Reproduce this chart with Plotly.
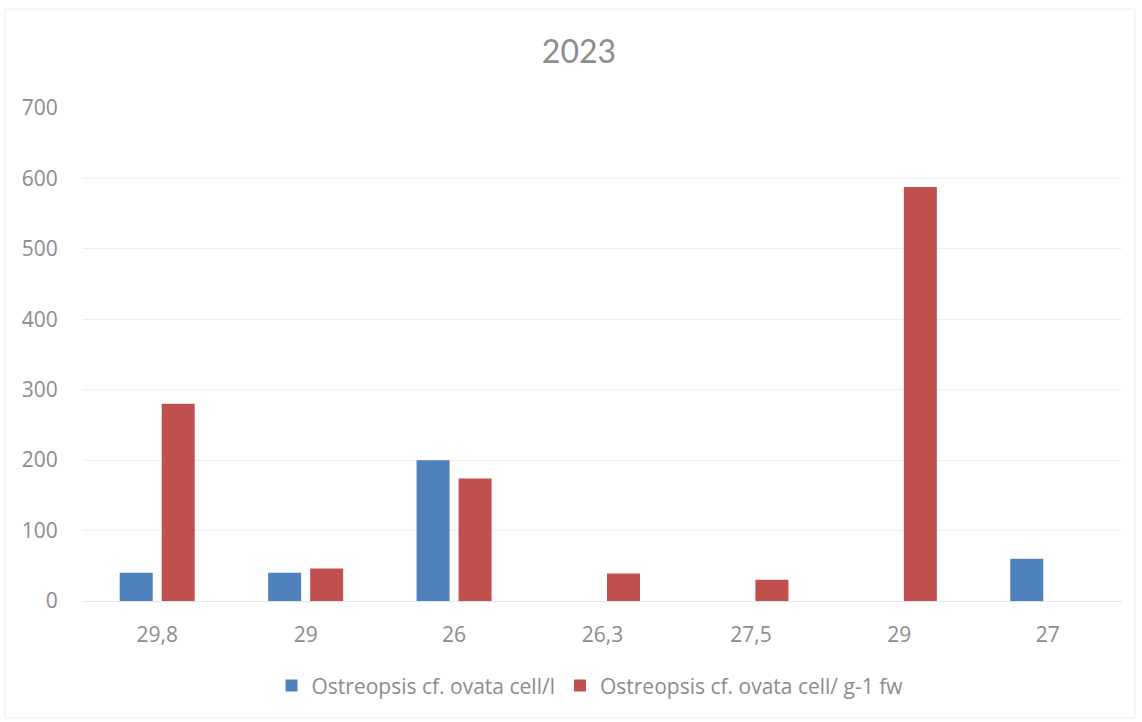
import plotly.graph_objects as go

# Water temperature (°C) of each sampling, used as the category label
temp_labels = ["29,8", "29", "26", "26,3", "27,5", "29", "27"]
cells_per_litre = [40, 40, 200, 0, 0, 0, 60]
cells_per_gram_fw = [280, 46, 174, 39, 30, 588, 0]

positions = list(range(len(temp_labels)))
text_col = "#8c8c8c"
body_font = "'Open Sans', sans-serif"
title_font = "Lato, sans-serif"

fig = go.Figure()
fig.add_trace(go.Bar(
    x=positions, y=cells_per_litre,
    name="Ostreopsis cf. ovata cell/l",
    marker=dict(color="#4f81bd", line=dict(width=0)),
))
fig.add_trace(go.Bar(
    x=positions, y=cells_per_gram_fw,
    name="Ostreopsis cf. ovata cell/ g-1 fw",
    marker=dict(color="#c0504d", line=dict(width=0)),
))

fig.update_layout(
    width=1142, height=722,
    margin=dict(l=83, r=20, t=108, b=121),
    paper_bgcolor="white", plot_bgcolor="white",
    barmode="group", bargap=0.434, bargroupgap=0.214,
    font=dict(family=body_font, color=text_col, size=21),
    title=dict(text="2023", x=0.507, xanchor="center", y=0.928, yanchor="middle",
               font=dict(size=32, color=text_col, family=title_font)),
    xaxis=dict(
        tickmode="array", tickvals=positions, ticktext=temp_labels,
        range=[-0.5, len(temp_labels) - 0.5],
        showgrid=False, zeroline=False, showline=False,
        ticks="outside", ticklen=15, tickcolor="rgba(0,0,0,0)",
        tickfont=dict(size=21, color=text_col),
    ),
    yaxis=dict(
        range=[0, 700], dtick=100,
        showgrid=True, gridcolor="#efefef", gridwidth=1,
        zeroline=True, zerolinecolor="#e6e6e6", zerolinewidth=1,
        showline=False, ticks="outside", ticklen=20, tickcolor="rgba(0,0,0,0)",
        tickfont=dict(size=21, color=text_col),
    ),
    legend=dict(orientation="h", x=0.488, xanchor="center", y=-0.172, yanchor="middle",
                font=dict(size=21, color=text_col), itemwidth=30, traceorder="normal"),
    shapes=[dict(type="rect", xref="paper", yref="paper",
                 x0=-0.075, x1=1.0125, y0=-0.237, y1=1.2008,
                 line=dict(color="#ececec", width=1), layer="below")],
)

fig.write_html("out.html")
